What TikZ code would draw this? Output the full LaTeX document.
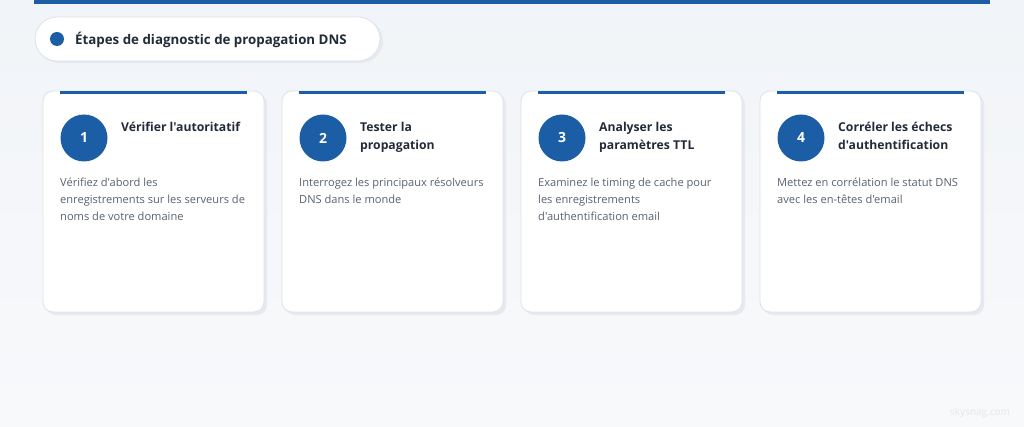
\documentclass[tikz,border=0pt]{standalone}
\usepackage{fontspec}
\setmainfont{Open Sans}[Ligatures=TeXOff]
\definecolor{bgtop}{HTML}{F1F4F8}
\definecolor{bgbot}{HTML}{F8F9FB}
\definecolor{brand}{HTML}{1B5EA6}
\definecolor{cardline}{HTML}{DCE2EA}
\definecolor{shadowc}{HTML}{E6EAF0}
\definecolor{titlec}{HTML}{222B38}
\definecolor{descc}{HTML}{58626F}
\definecolor{wmark}{HTML}{E4E7EB}
\tikzset{
  cardbox/.style={fill=white,draw=cardline,line width=0.8pt,rounded corners=10pt},
  shadowbox/.style={fill=shadowc,rounded corners=10pt},
  numdisc/.style={circle,fill=brand,minimum size=47pt,inner sep=0pt,text=white,font=\fontsize{14}{16}\selectfont\bfseries},
  titletxt/.style={anchor=base west,inner sep=0pt,text=titlec,font=\fontsize{12.2}{16}\selectfont\bfseries},
  desctxt/.style={anchor=base west,inner sep=0pt,text=descc,font=\fontsize{11.1}{14}\selectfont},
}
\begin{document}
\begin{tikzpicture}[x=1pt,y=-1pt]
\useasboundingbox (0,0) rectangle (1024,427);
\shade[top color=bgtop,bottom color=bgbot] (0,0) rectangle (1024,427);
% top bar
\fill[brand] (34,0) rectangle (990,4);
% header pill
\fill[shadowc,rounded corners=22pt] (37,19) rectangle (383,63);
\draw[fill=white,draw=cardline,line width=0.8pt,rounded corners=22pt] (35,17) rectangle (380,61);
\node[circle,fill=brand,minimum size=14pt,inner sep=0pt] (hdot) at (57,39) {};
\node[anchor=base west,inner sep=0pt,text=titlec,font=\fontsize{13.3}{16}\selectfont\bfseries] (htitle) at (75,44.5) {Étapes de diagnostic de propagation DNS};
% cards
\foreach \i/\num/\ta/\tb/\da/\db/\dc in {
  0/1/Vérifier l'autoritatif//Vérifiez d'abord les/enregistrements sur les serveurs de/noms de votre domaine,
  1/2/Tester la/propagation/Interrogez les principaux résolveurs/DNS dans le monde/,
  2/3/Analyser les/paramètres TTL/Examinez le timing de cache pour/les enregistrements/d'authentification email,
  3/4/Corréler les échecs/d'authentification/Mettez en corrélation le statut DNS/avec les en-têtes d'email/}{
  \pgfmathsetmacro{\xo}{43+239*\i}
  \fill[shadowbox] (\xo+3,94) rectangle (\xo+224,315);
  \draw[cardbox] (\xo,91) rectangle (\xo+221,312);
  \fill[brand] (\xo+17,91) rectangle (\xo+204,94.5);
  \node[numdisc] (n\i) at (\xo+41,138) {\num};
  \node[titletxt] (ta\i) at (\xo+78,131.5) {\ta};
  \node[titletxt] (tb\i) at (\xo+78,150) {\tb};
  \node[desctxt] (da\i) at (\xo+17,187) {\da};
  \node[desctxt] (db\i) at (\xo+17,204) {\db};
  \node[desctxt] (dc\i) at (\xo+17,221) {\dc};
}
\node[anchor=base west,inner sep=0pt,text=wmark,font=\fontsize{10}{12}\selectfont] (wm) at (950,415) {skysnag.com};
\end{tikzpicture}
\end{document}
